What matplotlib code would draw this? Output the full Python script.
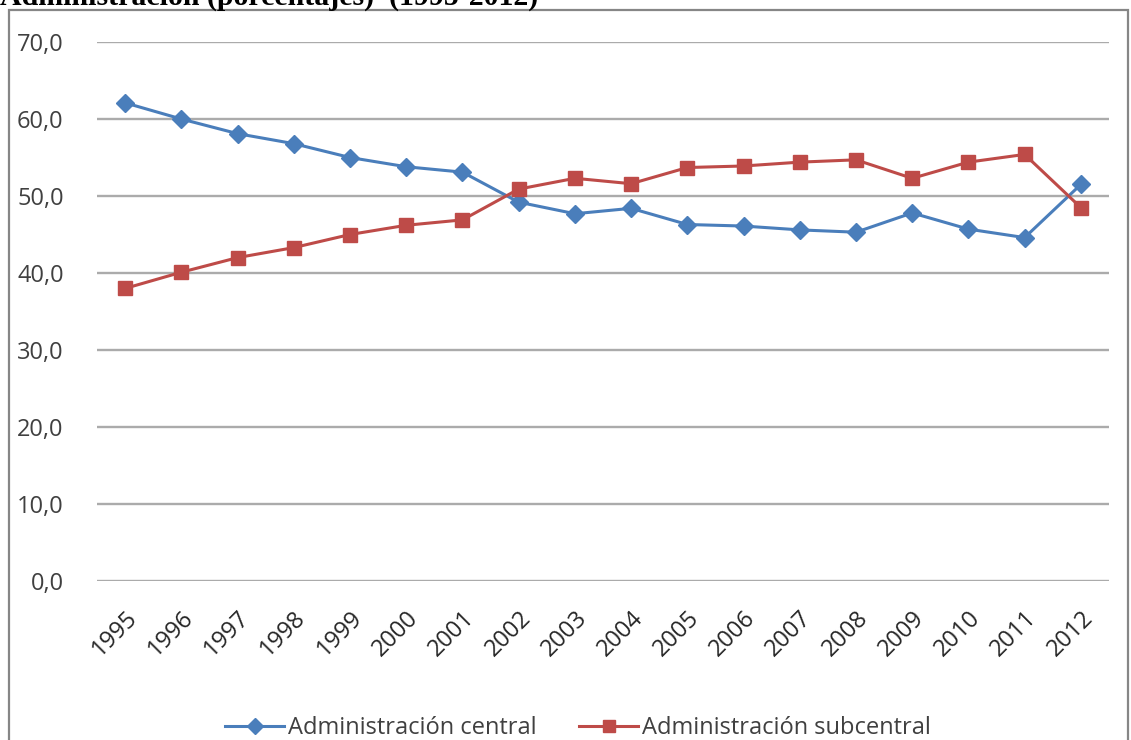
import matplotlib.pyplot as plt
from matplotlib.patches import Rectangle
from matplotlib.lines import Line2D

plt.rcParams['font.family'] = ['Open Sans', 'DejaVu Sans']

years = ['1995', '1996', '1997', '1998', '1999', '2000', '2001', '2002', '2003',
         '2004', '2005', '2006', '2007', '2008', '2009', '2010', '2011', '2012']
central = [62.1, 60.0, 58.1, 56.8, 55.0, 53.8, 53.1, 49.2, 47.7,
           48.4, 46.3, 46.1, 45.6, 45.3, 47.8, 45.7, 44.6, 51.5]
subcentral = [38.0, 40.1, 42.0, 43.3, 45.0, 46.2, 46.9, 50.9, 52.3,
              51.6, 53.7, 53.9, 54.4, 54.7, 52.3, 54.4, 55.4, 48.5]
y_ticks = [0, 10, 20, 30, 40, 50, 60, 70]

blue = '#4A7EBB'
red = '#BE4B48'
txt_color = '#404040'

fig = plt.figure(figsize=(11.31, 7.4), dpi=100)
ax = fig.add_axes([0.0858, 0.2149, 0.8947, 0.7283])

x = list(range(len(years)))
ax.plot(x, central, color=blue, lw=2.2, marker='D', ms=9, mec=blue, mfc=blue,
        label='Administración central', zorder=3)
ax.plot(x, subcentral, color=red, lw=2.2, marker='s', ms=10, mec=red, mfc=red,
        label='Administración subcentral', zorder=3)

ax.set_xlim(-0.5, len(years) - 0.5)
ax.set_ylim(0, 70)
ax.set_yticks(y_ticks)
ax.set_yticklabels([('%.1f' % v).replace('.', ',') for v in y_ticks])
ax.set_xticks(x)
ax.set_xticklabels(years, rotation=45, ha='right', va='top', rotation_mode='anchor')
ax.tick_params(axis='y', length=0, labelsize=17, colors=txt_color, pad=24)
ax.tick_params(axis='x', length=0, labelsize=17, colors='#262626', pad=18)
ax.grid(axis='y', color='#ABABAB', lw=1.7)
ax.set_axisbelow(True)
for s in ax.spines.values():
    s.set_visible(False)

handles = [Line2D([], [], color=blue, lw=2.2, marker='D', ms=8),
           Line2D([], [], color=red, lw=2.2, marker='s', ms=9)]
fig.legend(handles, ['Administración central', 'Administración subcentral'],
           loc='center', bbox_to_anchor=(0.511, 0.016), ncol=2, frameon=False,
           fontsize=17, handlelength=2.5, handletextpad=0.15, columnspacing=1.8,
           labelcolor=txt_color, borderpad=0)

# outer chart frame
fig.patches.append(Rectangle((9 / 1131, -0.1), 1119 / 1131, 1.1 - 10 / 740,
                             transform=fig.transFigure, fill=False,
                             edgecolor='#868686', lw=1.6))

fig.text(0.0, 1 - 5 / 740, 'Administración (porcentajes)  (1995-2012)',
         family='Liberation Serif', weight='bold', fontsize=21.5, va='baseline',
         ha='left', color='black')

plt.savefig('out.png', dpi=100)
